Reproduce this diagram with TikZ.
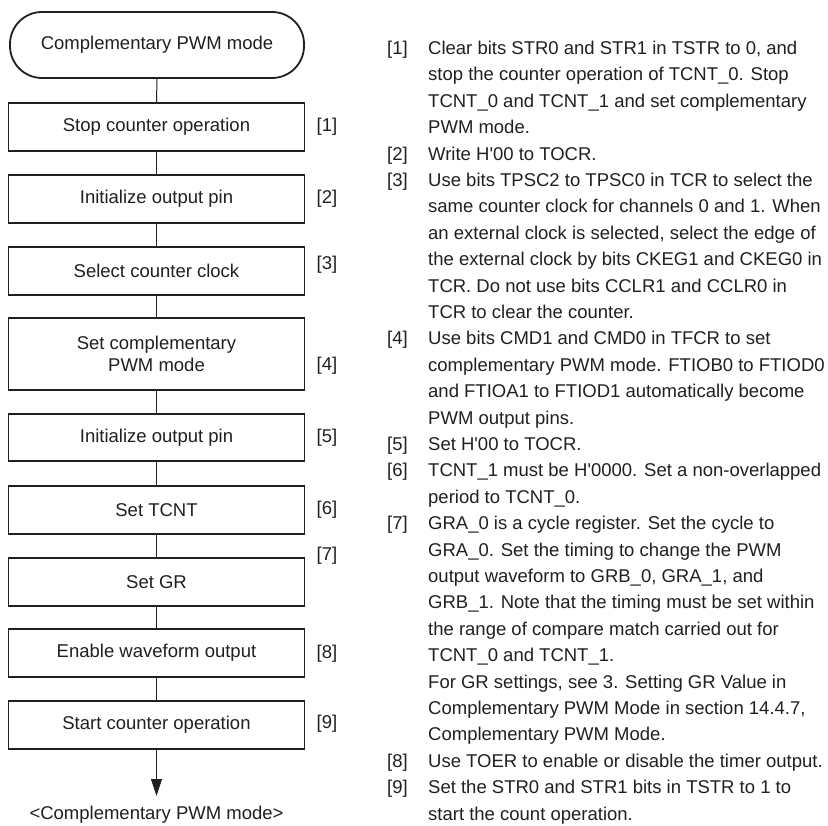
\documentclass[tikz,border=0pt]{standalone}
\usepackage{fontspec}
\setmainfont{Liberation Sans}[Ligatures=TeXOff]
\usetikzlibrary{arrows.meta}
\newcommand\aps{\char"0027\relax}
\definecolor{ink}{HTML}{231F20}
\begin{document}
\begin{tikzpicture}[x=1pt,y=-1pt,
  every node/.style={text=ink},
  flowbox/.style={draw=ink,line width=1.8pt,minimum width=296pt,minimum height=47.5pt,inner sep=0pt,align=center,
     font=\fontsize{18.5}{22}\selectfont},
  termbox/.style={draw=ink,line width=1.8pt,minimum width=294pt,minimum height=66pt,rounded corners=32pt,inner sep=0pt,
     font=\fontsize{18.5}{22}\selectfont},
  conn/.style={draw=ink,line width=1pt},
  lbl/.style={font=\fontsize{18.5}{22}\selectfont,inner sep=0pt},
  rnum/.style={font=\fontsize{18.5}{22}\selectfont,inner sep=0pt,anchor=base west},
  rline/.style={font=\fontsize{18.5}{22}\selectfont,inner sep=0pt,anchor=base west}]
\useasboundingbox[fill=white] (0,0) rectangle (828,826);
% left flow
\node[termbox] (t0) at (157,45) {Complementary PWM mode};
\node[flowbox] (b1) at (156.5,127) {Stop counter operation};
\node[flowbox] (b2) at (156.5,199) {Initialize output pin};
\node[flowbox] (b3) at (156.5,271) {Select counter clock};
\node[flowbox,minimum height=72pt] (b4) at (156.5,354) {Set complementary\\PWM mode};
\node[flowbox] (b5) at (156.5,437.5) {Initialize output pin};
\node[flowbox] (b6) at (156.5,510) {Set TCNT};
\node[flowbox] (b7) at (156.5,582) {Set GR};
\node[flowbox] (b8) at (156.5,653) {Enable waveform output};
\node[flowbox] (b9) at (156.5,725) {Start counter operation};
\coordinate (tip) at (156.5,796);
\node[lbl] (fin) at (156.5,815) {<Complementary PWM mode>};
\draw[conn] (t0.south) -- (b1.north);
\draw[conn] (b1.south) -- (b2.north);
\draw[conn] (b2.south) -- (b3.north);
\draw[conn] (b3.south) -- (b4.north);
\draw[conn] (b4.south) -- (b5.north);
\draw[conn] (b5.south) -- (b6.north);
\draw[conn] (b6.south) -- (b7.north);
\draw[conn] (b7.south) -- (b8.north);
\draw[conn] (b8.south) -- (b9.north);
\draw[conn,-{Triangle[length=17pt,width=11pt]}] (b9.south) -- (tip);
% left labels
\node[lbl] (l1) at (327,127) {[1]};
\node[lbl] (l2) at (327,199) {[2]};
\node[lbl] (l3) at (327,265) {[3]};
\node[lbl] (l4) at (327,366) {[4]};
\node[lbl] (l5) at (327,438) {[5]};
\node[lbl] (l6) at (327,510) {[6]};
\node[lbl] (l7) at (327,556) {[7]};
\node[lbl] (l8) at (327,654) {[8]};
\node[lbl] (l9) at (327,724) {[9]};
% right column
\node[rnum] (n1) at (387,54.5) {[1]};
\node[rline] (r1) at (428,54.5) {Clear bits STR0 and STR1 in TSTR to 0, and};
\node[rline] (r2) at (428,80.9) {stop the counter operation of TCNT\_0. Stop};
\node[rline] (r3) at (428,107.3) {TCNT\_0 and TCNT\_1 and set complementary};
\node[rline] (r4) at (428,133.7) {PWM mode.};
\node[rnum] (n2) at (387,160.1) {[2]};
\node[rline] (r5) at (428,160.1) {Write H\aps 00 to TOCR.};
\node[rnum] (n3) at (387,186.5) {[3]};
\node[rline] (r6) at (428,186.5) {Use bits TPSC2 to TPSC0 in TCR to select the};
\node[rline] (r7) at (428,212.9) {same counter clock for channels 0 and 1. When};
\node[rline] (r8) at (428,239.3) {an external clock is selected, select the edge of};
\node[rline] (r9) at (428,265.7) {the external clock by bits CKEG1 and CKEG0 in};
\node[rline] (r10) at (428,292.1) {TCR. Do not use bits CCLR1 and CCLR0 in};
\node[rline] (r11) at (428,318.5) {TCR to clear the counter.};
\node[rnum] (n4) at (387,344.9) {[4]};
\node[rline] (r12) at (428,344.9) {Use bits CMD1 and CMD0 in TFCR to set};
\node[rline] (r13) at (428,371.3) {complementary PWM mode. FTIOB0 to FTIOD0};
\node[rline] (r14) at (428,397.7) {and FTIOA1 to FTIOD1 automatically become};
\node[rline] (r15) at (428,424.1) {PWM output pins.};
\node[rnum] (n5) at (387,450.5) {[5]};
\node[rline] (r16) at (428,450.5) {Set H\aps 00 to TOCR.};
\node[rnum] (n6) at (387,476.9) {[6]};
\node[rline] (r17) at (428,476.9) {TCNT\_1 must be H\aps 0000. Set a non-overlapped};
\node[rline] (r18) at (428,503.3) {period to TCNT\_0.};
\node[rnum] (n7) at (387,529.7) {[7]};
\node[rline] (r19) at (428,529.7) {GRA\_0 is a cycle register. Set the cycle to};
\node[rline] (r20) at (428,556.1) {GRA\_0. Set the timing to change the PWM};
\node[rline] (r21) at (428,582.5) {output waveform to GRB\_0, GRA\_1, and};
\node[rline] (r22) at (428,608.9) {GRB\_1. Note that the timing must be set within};
\node[rline] (r23) at (428,635.3) {the range of compare match carried out for};
\node[rline] (r24) at (428,661.7) {TCNT\_0 and TCNT\_1.};
\node[rline] (r25) at (428,688.1) {For GR settings, see 3. Setting GR Value in};
\node[rline] (r26) at (428,714.5) {Complementary PWM Mode in section 14.4.7,};
\node[rline] (r27) at (428,740.9) {Complementary PWM Mode.};
\node[rnum] (n8) at (387,767.3) {[8]};
\node[rline] (r28) at (428,767.3) {Use TOER to enable or disable the timer output.};
\node[rnum] (n9) at (387,793.7) {[9]};
\node[rline] (r29) at (428,793.7) {Set the STR0 and STR1 bits in TSTR to 1 to};
\node[rline] (r30) at (428,820.1) {start the count operation.};
\end{tikzpicture}
\end{document}
